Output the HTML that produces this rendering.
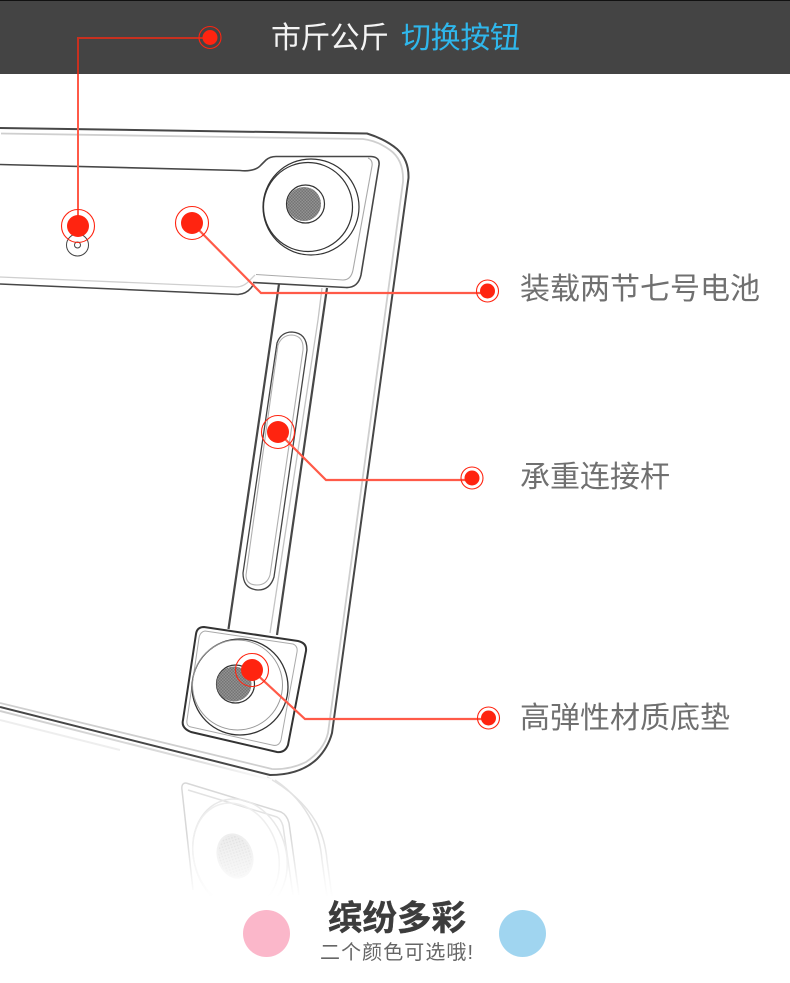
<!DOCTYPE html>
<html><head><meta charset="utf-8">
<style>
html,body{margin:0;padding:0;background:#fff}
#p{position:relative;width:790px;height:983px;overflow:hidden;background:#fff;font-family:"Liberation Sans","Noto Sans CJK SC",sans-serif}
svg{position:absolute;left:0;top:0}
svg text{font-family:"Liberation Sans","Noto Sans CJK SC",sans-serif}
</style></head><body><div id="p">
<svg width="790" height="983" viewBox="0 0 790 983">
<defs>
<pattern id="chk" width="3" height="3" patternUnits="userSpaceOnUse"><rect width="3" height="3" fill="#929292"/><rect width="1.5" height="1.5" fill="#747474"/><rect x="1.5" y="1.5" width="1.5" height="1.5" fill="#747474"/></pattern>
<pattern id="chk2" width="3" height="3" patternUnits="userSpaceOnUse"><rect width="3" height="3" fill="#ececec"/><rect width="1.5" height="1.5" fill="#e0e0e0"/></pattern>
<linearGradient id="fade" x1="0" y1="0" x2="0" y2="1"><stop offset="0" stop-color="#fff" stop-opacity="0"/><stop offset="1" stop-color="#fff" stop-opacity="1"/></linearGradient>
<linearGradient id="sh" gradientUnits="userSpaceOnUse" x1="0" y1="0" x2="275" y2="0"><stop offset="0" stop-color="#cfcfcf"/><stop offset="0.7" stop-color="#dcdcdc"/><stop offset="1" stop-color="#fff"/></linearGradient>
</defs>
<rect x="0" y="0" width="790" height="74" fill="#444"/>
<rect x="0" y="0" width="790" height="1" fill="#111"/>

<!-- reflection -->
<g fill="none" stroke="#e2e2e2" stroke-width="1.5">
<path d="M186 783 L281 812 Q287 815 289 823 L299 895" stroke="#d8d8d8"/>
<path d="M186 783 Q181 783 182 790 L193 890" stroke="#d8d8d8"/>
<path d="M188 790 L277 817 Q281 819 283 826 L293 895"/>
<path d="M267 777 Q300 795 316 822 Q325 838 327 860 L332 897"/>
<path d="M275 780 Q300 797 312 822 Q320 838 322 860 L327 897"/>
<ellipse cx="240" cy="856" rx="46" ry="58" transform="rotate(-18 240 856)" stroke="#e8e8e8"/>
<ellipse cx="236" cy="856" rx="42" ry="54" transform="rotate(-18 236 856)" stroke="#eee"/>
<ellipse cx="235" cy="856" rx="17" ry="22" transform="rotate(-18 235 856)" fill="url(#chk2)" stroke="#eee" stroke-width="2"/>
</g>
<rect x="150" y="835" width="220" height="62" fill="url(#fade)"/>
<rect x="150" y="897" width="220" height="20" fill="#fff"/>

<!-- body gray lines -->
<g fill="none" stroke="#cfcfcf" stroke-width="1.8" stroke-linejoin="round">
<path d="M1 133.500 L363 139 Q378 141 390 150 Q404 160 403 182 L328 733 Q324 750 306 762 Q290 770 272 769 L0 703"/>
<path d="M0 277 L236 287 Q244 287 250 280 L255 275" stroke-width="1.300"/>
<path d="M0 711 L272 780" stroke="url(#sh)" stroke-width="2"/>
<path d="M0 720 L120 750" stroke="#eee" stroke-width="2"/>
<path d="M318 320 L322 288" stroke="#c4c4c4" stroke-width="1.300"/>
<path d="M318 320 L270 633" stroke="#c4c4c4" stroke-width="1.300"/>
</g>
<!-- body outline -->
<g fill="none" stroke="#474747" stroke-width="2" stroke-linejoin="round">
<path d="M0 128 L367 133.500 Q385 139 397 149 Q409 160 408.500 178 L332 733 Q328 748 317 759 Q300 775 270 775 L0 707" />
<path d="M0 164.500 L240 170.500 Q255 172 261 165 L266 160 Q270 156.500 276 156.500 L371 156.500 Q380 157 379 165 L361 275 Q358 288 346 287.500 L253 282.500" stroke-width="1.600"/>
<path d="M0 284 L238 294.500 Q246 294 251 288 L254 284" stroke-width="1.500"/>
<path d="M279 284 L228.500 629" stroke-width="2.200"/>
<path d="M327 288 L277 635" stroke-width="2.200"/>
</g>
<path d="M277 343 Q281 332 292 332 Q307 333 307 350 L274 577 Q270 590 258 590 Q243 589 243 573 Z" fill="none" stroke="#444" stroke-width="1.300"/>
<path d="M278 345 Q282 335 292 335 Q304 336 303 350 L270 575 Q267 585 257 585 Q246 585 246 575 Z" fill="none" stroke="#b0b0b0" stroke-width="1.100"/>
<path d="M256 274.500 L343 280 Q351 280 353 270 L372 166 Q373 160 368 158" fill="none" stroke="#aaa" stroke-width="1.100"/>

<!-- top foot -->
<g fill="none" stroke="#333" stroke-width="1.200">
<circle cx="311" cy="207" r="48" fill="#fff"/>
<circle cx="308" cy="207" r="44.500" fill="#fff"/>
<circle cx="305.500" cy="204" r="19" fill="#fff"/>
</g>
<circle cx="304" cy="204" r="17" fill="url(#chk)"/>
<!-- small button -->
<circle cx="77.500" cy="245" r="11" fill="none" stroke="#444" stroke-width="1"/>
<circle cx="77.500" cy="245" r="3" fill="none" stroke="#444" stroke-width="1"/>

<!-- bottom foot -->
<path d="M204 627 L298 641 Q307 643 306 651 L288 745 Q285 753 277 752 L191 732 Q181 728 183 720 L196 634 Q197 627 204 627Z" fill="#fff" stroke="#333" stroke-width="2"/>
<path d="M205 631 L293 644 Q298 646 297 652 L281 740 Q279 747 272 745 L191 727 Q186 726 187 720 L199 638 Q200 632 205 631Z" fill="none" stroke="#aaa" stroke-width="1"/>
<circle cx="240" cy="687" r="48" fill="#fff" stroke="#333" stroke-width="1.300"/>
<circle cx="237.500" cy="685" r="45" fill="none" stroke="#999" stroke-width="1"/>
<circle cx="235.500" cy="684" r="19" fill="#fff" stroke="#333" stroke-width="1.200"/>
<circle cx="234" cy="684" r="17.500" fill="url(#chk)"/>

<!-- connectors -->
<path d="M78 38 L210 38" stroke="#c8301f" stroke-width="2" fill="none"/>
<path d="M78 37 L78 74" stroke="#c8301f" stroke-width="2" fill="none"/>
<path d="M78 74 L78 225" stroke="#ff5a48" stroke-width="2" fill="none"/>
<path d="M192 223 L261 293 L487 293" stroke="#ff5a48" stroke-width="2.200" fill="none"/>
<path d="M278 432 L326 480 L472 480" stroke="#ff5a48" stroke-width="2.200" fill="none"/>
<path d="M252 670 L305 719 L488 719" stroke="#ff5a48" stroke-width="2.200" fill="none"/>

<!-- dots -->
<g fill="#ff2410" stroke="none"><circle cx="78" cy="226" r="11"/><circle cx="192" cy="223" r="11"/><circle cx="278" cy="432" r="11"/><circle cx="252" cy="670" r="11"/><circle cx="210" cy="37.500" r="7.500"/><circle cx="487.500" cy="291" r="7.500"/><circle cx="472" cy="478" r="7.500"/><circle cx="488.500" cy="718" r="7.500"/></g>
<g fill="none" stroke="#ff2410" stroke-width="1.100"><circle cx="78" cy="226" r="16.500"/><circle cx="192" cy="223" r="16.500"/><circle cx="278" cy="432" r="16.500"/><circle cx="252" cy="670" r="16.500"/><circle cx="210" cy="37.500" r="11"/><circle cx="487.500" cy="291" r="11"/><circle cx="472" cy="478" r="11"/><circle cx="488.500" cy="718" r="11"/></g>

<!-- text -->
<text x="271" y="48" font-size="30" fill="#f4f4f4" textLength="118">市斤公斤</text>
<text x="401" y="48" font-size="30" fill="#2fb7ec" textLength="119">切换按钮</text>
<text x="520" y="299" font-size="30" fill="#707070" textLength="240">装载两节七号电池</text>
<text x="520" y="487" font-size="30" fill="#707070" textLength="150">承重连接杆</text>
<text x="520" y="728" font-size="30" fill="#707070" textLength="210">高弹性材质底垫</text>
<text x="328" y="930" font-size="34.500" font-weight="700" fill="#3c3c3c" stroke="#3c3c3c" stroke-width="0.400" textLength="138">缤纷多彩</text>
<text x="320" y="959" font-size="20" fill="#666" textLength="153">二个颜色可选哦!</text>
<circle cx="266.500" cy="933.500" r="23.500" fill="#fbb7ca"/>
<circle cx="522.500" cy="933.500" r="23.500" fill="#a0d5f0"/>
</svg>
</div></body></html>
